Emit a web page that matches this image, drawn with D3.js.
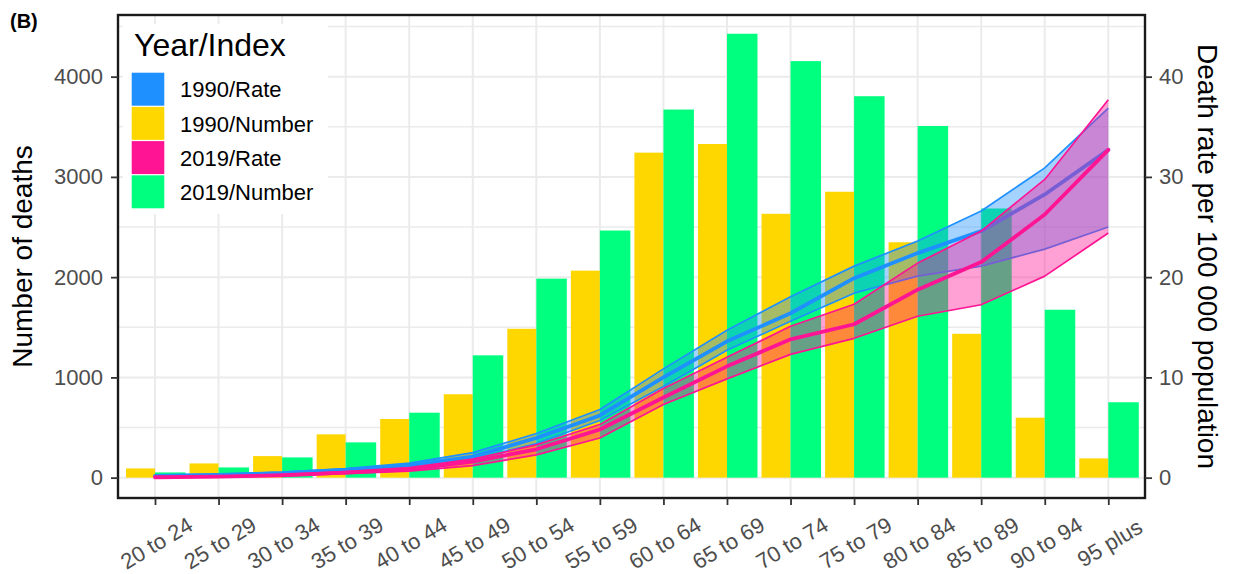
<!DOCTYPE html>
<html>
<head>
<meta charset="utf-8">
<script src="https://cdn.jsdelivr.net/npm/d3@7"></script>
<style>
  body { margin: 0; background: #fff; }
  svg { display: block; }
  text { font-family: "Liberation Sans", Arial, Helvetica, sans-serif; }
</style>
</head>
<body>
<svg id="chart" width="1237" height="574"></svg>
<script>
// Age groups
const categories = ["20 to 24", "25 to 29", "30 to 34", "35 to 39", "40 to 44", "45 to 49",
  "50 to 54", "55 to 59", "60 to 64", "65 to 69", "70 to 74", "75 to 79",
  "80 to 84", "85 to 89", "90 to 94", "95 plus"];

// Number of deaths
const deaths1990 = [92, 142, 215, 432, 585, 832, 1485, 2065, 3242, 3328, 2632, 2852, 2348, 1435, 598, 192];
const deaths2019 = [52, 102, 202, 352, 648, 1220, 1985, 2465, 3672, 4428, 4155, 3805, 3508, 2685, 1675, 752];

// Death rate per 100 000 population (mean with uncertainty bounds)
const rate1990 = [0.17, 0.27, 0.44, 0.77, 1.22, 2.1, 3.95, 6.2, 10.0, 13.6, 16.4, 19.9, 22.4, 24.6, 28.25, 32.7];
const rate1990Upper = [0.25, 0.35, 0.55, 0.9, 1.45, 2.5, 4.4, 6.8, 10.85, 14.7, 18.05, 21.1, 23.6, 26.6, 30.9, 36.85];
const rate1990Lower = [0.1, 0.2, 0.35, 0.65, 1.0, 1.8, 3.4, 5.7, 9.1, 12.7, 15.6, 18.4, 20.1, 21.1, 22.8, 25.0];
const rate2019 = [0.04, 0.1, 0.24, 0.5, 0.82, 1.6, 2.83, 4.8, 8.0, 11.1, 13.8, 15.3, 18.75, 21.5, 26.25, 32.7];
const rate2019Upper = [0.08, 0.15, 0.3, 0.6, 1.0, 1.85, 3.27, 5.3, 8.9, 12.0, 15.1, 17.3, 21.4, 24.6, 29.75, 37.7];
const rate2019Lower = [0.02, 0.06, 0.18, 0.4, 0.65, 1.2, 2.27, 3.95, 7.3, 9.85, 12.3, 13.9, 16.1, 17.25, 20.1, 24.4];

// Axis ticks
const leftTicks = [0, 1000, 2000, 3000, 4000];
const leftMinor = [500, 1500, 2500, 3500, 4500];
const rightTicks = [0, 10, 20, 30, 40];

// Legend entries
const legendLabels = ["1990/Rate", "1990/Number", "2019/Rate", "2019/Number"];
const legendColors = ["#1E90FF", "#FFD700", "#FF1493", "#00FF7F"];

const C = { rate90: "#1E90FF", num90: "#FFD700", rate19: "#FF1493", num19: "#00FF7F" };

const svg = d3.select("#chart");
const panel = { left: 118, right: 1145, top: 15, bottom: 498 };

const x = d3.scalePoint().domain(categories).range([155, 1108.3]);
const y = d3.scaleLinear().domain([-203, 4615]).range([panel.bottom, panel.top]);
const yRate = d3.scaleLinear().domain([-2.03, 46.15]).range([panel.bottom, panel.top]);

svg.append("rect").attr("width", 1237).attr("height", 574).attr("fill", "#fff");

// Grid
const grid = svg.append("g");
grid.selectAll(".minor").data(leftMinor).join("line")
  .attr("x1", panel.left).attr("x2", panel.right)
  .attr("y1", d => y(d)).attr("y2", d => y(d))
  .attr("stroke", "#ebebeb").attr("stroke-width", 1.6);
grid.selectAll(".major").data(leftTicks).join("line")
  .attr("x1", panel.left).attr("x2", panel.right)
  .attr("y1", d => y(d)).attr("y2", d => y(d))
  .attr("stroke", "#ebebeb").attr("stroke-width", 2);
grid.selectAll(".vert").data(categories).join("line")
  .attr("x1", d => x(d)).attr("x2", d => x(d))
  .attr("y1", panel.top).attr("y2", panel.bottom)
  .attr("stroke", "#ebebeb").attr("stroke-width", 2);

// Bars: 1990 to the left of each category tick, 2019 to the right
const bars = svg.append("g");
bars.selectAll(".b90").data(categories).join("rect")
  .attr("x", d => x(d) - 29).attr("width", 29)
  .attr("y", (d, i) => y(deaths1990[i]))
  .attr("height", (d, i) => y(0) - y(deaths1990[i]))
  .attr("fill", C.num90);
bars.selectAll(".b19").data(categories).join("rect")
  .attr("x", d => x(d)).attr("width", 30.5)
  .attr("y", (d, i) => y(deaths2019[i]))
  .attr("height", (d, i) => y(0) - y(deaths2019[i]))
  .attr("fill", C.num19);

// Rate ribbons and lines
function drawRate(mean, lower, upper, color) {
  const g = svg.append("g");
  const idx = d3.range(categories.length);
  const area = d3.area()
    .x(i => x(categories[i]))
    .y0(i => yRate(lower[i]))
    .y1(i => yRate(upper[i]));
  const line = arr => d3.line().x(i => x(categories[i])).y(i => yRate(arr[i]))(idx);
  g.append("path").attr("d", area(idx)).attr("fill", color).attr("fill-opacity", 0.4);
  [lower, upper].forEach(arr => {
    g.append("path").attr("d", line(arr)).attr("fill", "none")
      .attr("stroke", color).attr("stroke-width", 1.7).attr("stroke-linejoin", "round");
  });
  g.append("path").attr("d", line(mean)).attr("fill", "none")
    .attr("stroke", color).attr("stroke-width", 3.8)
    .attr("stroke-linejoin", "round").attr("stroke-linecap", "round");
}
drawRate(rate1990, rate1990Lower, rate1990Upper, C.rate90);
drawRate(rate2019, rate2019Lower, rate2019Upper, C.rate19);

// Legend
const lg = svg.append("g");
lg.append("rect").attr("x", 123).attr("y", 24).attr("width", 205).attr("height", 190).attr("fill", "#fff");
lg.append("text").attr("x", 134).attr("y", 56).attr("font-size", 32).attr("fill", "#000").text("Year/Index");
legendLabels.forEach((lab, i) => {
  const ky = 72.7 + i * 34.2;
  lg.append("rect").attr("x", 131.7).attr("y", ky).attr("width", 32.6).attr("height", 33)
    .attr("fill", legendColors[i]);
  lg.append("text").attr("x", 180).attr("y", ky + 17).attr("dy", "0.35em")
    .attr("font-size", 22).attr("fill", "#000").text(lab);
});

// Panel border
svg.append("rect").attr("x", panel.left).attr("y", panel.top)
  .attr("width", panel.right - panel.left).attr("height", panel.bottom - panel.top)
  .attr("fill", "none").attr("stroke", "#1a1a1a").attr("stroke-width", 2.4);

// Left axis
const la = svg.append("g").attr("transform", `translate(${panel.left},0)`)
  .call(d3.axisLeft(y).tickValues(leftTicks).tickSize(7).tickPadding(8).tickFormat(d3.format("d")));
la.select(".domain").remove();
la.selectAll(".tick line").attr("stroke", "#333").attr("stroke-width", 1.8);
la.selectAll(".tick text").attr("font-size", 22).attr("fill", "#4d4d4d")
  .attr("font-family", "Liberation Sans, Arial, sans-serif");

// Right axis
const ra = svg.append("g").attr("transform", `translate(${panel.right},0)`)
  .call(d3.axisRight(yRate).tickValues(rightTicks).tickSize(7).tickPadding(7));
ra.select(".domain").remove();
ra.selectAll(".tick line").attr("stroke", "#333").attr("stroke-width", 1.8);
ra.selectAll(".tick text").attr("font-size", 22).attr("fill", "#4d4d4d")
  .attr("font-family", "Liberation Sans, Arial, sans-serif");

// Bottom axis with slanted labels
const ba = svg.append("g").attr("transform", `translate(0,${panel.bottom})`)
  .call(d3.axisBottom(x).tickSize(7).tickPadding(0));
ba.select(".domain").remove();
ba.selectAll(".tick line").attr("stroke", "#333").attr("stroke-width", 1.8);
ba.selectAll(".tick text")
  .attr("font-size", 22).attr("fill", "#4d4d4d")
  .attr("font-family", "Liberation Sans, Arial, sans-serif")
  .attr("text-anchor", "middle").attr("dy", "0.35em")
  .attr("y", 0)
  .attr("transform", "translate(1,45) rotate(-31)");

// Axis titles
svg.append("text").attr("transform", `translate(31.5,${(panel.top + panel.bottom) / 2}) rotate(-90)`)
  .attr("text-anchor", "middle").attr("font-size", 28).attr("fill", "#000").text("Number of deaths");
svg.append("text").attr("transform", `translate(1198,${(panel.top + panel.bottom) / 2}) rotate(90)`)
  .attr("text-anchor", "middle").attr("font-size", 28).attr("fill", "#000").text("Death rate per 100 000 population");

// Panel tag
svg.append("text").attr("x", 10).attr("y", 28).attr("font-size", 20).attr("font-weight", "bold")
  .attr("fill", "#000").text("(B)");
</script>
</body>
</html>
